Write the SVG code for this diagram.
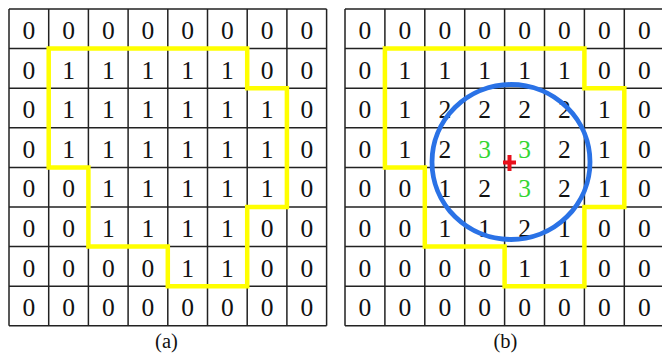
<svg xmlns="http://www.w3.org/2000/svg" width="662" height="354" viewBox="0 0 662 354">
<style>
.g{stroke:#222;stroke-width:1.5;fill:none}
.t{font-family:"Liberation Serif","Times New Roman",serif;font-size:25.5px;text-anchor:middle;fill:#111}
.gr{fill:#33d633}
.y{fill:none;stroke:#ffff00;stroke-width:4.5;stroke-linejoin:miter}
.cap{font-family:"Liberation Serif","Times New Roman",serif;font-size:20.5px;text-anchor:middle;fill:#111}
</style>
<rect width="662" height="354" fill="#fff"/>
<g id="grid-a">
<path class="g" d="M9,9V325.8M48.7,9V325.8M88.4,9V325.8M128.1,9V325.8M167.8,9V325.8M207.5,9V325.8M247.2,9V325.8M286.9,9V325.8M326.6,9V325.8M9,9H326.6M9,48.6H326.6M9,88.2H326.6M9,127.8H326.6M9,167.4H326.6M9,207H326.6M9,246.6H326.6M9,286.2H326.6M9,325.8H326.6"/>
<g class="t">
<text x="28.85" y="39">0</text><text x="68.55" y="39">0</text><text x="108.25" y="39">0</text><text x="147.95" y="39">0</text><text x="187.65" y="39">0</text><text x="227.35" y="39">0</text><text x="267.05" y="39">0</text><text x="306.75" y="39">0</text>
<text x="28.85" y="78.6">0</text><text x="68.55" y="78.6">1</text><text x="108.25" y="78.6">1</text><text x="147.95" y="78.6">1</text><text x="187.65" y="78.6">1</text><text x="227.35" y="78.6">1</text><text x="267.05" y="78.6">0</text><text x="306.75" y="78.6">0</text>
<text x="28.85" y="118.2">0</text><text x="68.55" y="118.2">1</text><text x="108.25" y="118.2">1</text><text x="147.95" y="118.2">1</text><text x="187.65" y="118.2">1</text><text x="227.35" y="118.2">1</text><text x="267.05" y="118.2">1</text><text x="306.75" y="118.2">0</text>
<text x="28.85" y="157.8">0</text><text x="68.55" y="157.8">1</text><text x="108.25" y="157.8">1</text><text x="147.95" y="157.8">1</text><text x="187.65" y="157.8">1</text><text x="227.35" y="157.8">1</text><text x="267.05" y="157.8">1</text><text x="306.75" y="157.8">0</text>
<text x="28.85" y="197.4">0</text><text x="68.55" y="197.4">0</text><text x="108.25" y="197.4">1</text><text x="147.95" y="197.4">1</text><text x="187.65" y="197.4">1</text><text x="227.35" y="197.4">1</text><text x="267.05" y="197.4">1</text><text x="306.75" y="197.4">0</text>
<text x="28.85" y="237">0</text><text x="68.55" y="237">0</text><text x="108.25" y="237">1</text><text x="147.95" y="237">1</text><text x="187.65" y="237">1</text><text x="227.35" y="237">1</text><text x="267.05" y="237">0</text><text x="306.75" y="237">0</text>
<text x="28.85" y="276.6">0</text><text x="68.55" y="276.6">0</text><text x="108.25" y="276.6">0</text><text x="147.95" y="276.6">0</text><text x="187.65" y="276.6">1</text><text x="227.35" y="276.6">1</text><text x="267.05" y="276.6">0</text><text x="306.75" y="276.6">0</text>
<text x="28.85" y="316.2">0</text><text x="68.55" y="316.2">0</text><text x="108.25" y="316.2">0</text><text x="147.95" y="316.2">0</text><text x="187.65" y="316.2">0</text><text x="227.35" y="316.2">0</text><text x="267.05" y="316.2">0</text><text x="306.75" y="316.2">0</text>
</g>
<path class="y" d="M48.7,48.6H247.2V88.2H286.9V207H247.2V286.2H167.8V246.6H88.4V167.4H48.7Z"/>
<text class="cap" x="166.5" y="348">(a)</text>
</g>
<g id="grid-b">
<path class="g" d="M345,9V325.8M384.9,9V325.8M424.8,9V325.8M464.7,9V325.8M504.6,9V325.8M544.5,9V325.8M584.4,9V325.8M624.3,9V325.8M664.2,9V325.8M345,9H664.2M345,48.6H664.2M345,88.2H664.2M345,127.8H664.2M345,167.4H664.2M345,207H664.2M345,246.6H664.2M345,286.2H664.2M345,325.8H664.2"/>
<g class="t">
<text x="364.95" y="39">0</text><text x="404.85" y="39">0</text><text x="444.75" y="39">0</text><text x="484.65" y="39">0</text><text x="524.55" y="39">0</text><text x="564.45" y="39">0</text><text x="604.35" y="39">0</text><text x="644.25" y="39">0</text>
<text x="364.95" y="78.6">0</text><text x="404.85" y="78.6">1</text><text x="444.75" y="78.6">1</text><text x="484.65" y="78.6">1</text><text x="524.55" y="78.6">1</text><text x="564.45" y="78.6">1</text><text x="604.35" y="78.6">0</text><text x="644.25" y="78.6">0</text>
<text x="364.95" y="118.2">0</text><text x="404.85" y="118.2">1</text><text x="444.75" y="118.2">2</text><text x="484.65" y="118.2">2</text><text x="524.55" y="118.2">2</text><text x="564.45" y="118.2">2</text><text x="604.35" y="118.2">1</text><text x="644.25" y="118.2">0</text>
<text x="364.95" y="157.8">0</text><text x="404.85" y="157.8">1</text><text x="444.75" y="157.8">2</text><text class="gr" x="484.65" y="157.8">3</text><text class="gr" x="524.55" y="157.8">3</text><text x="564.45" y="157.8">2</text><text x="604.35" y="157.8">1</text><text x="644.25" y="157.8">0</text>
<text x="364.95" y="197.4">0</text><text x="404.85" y="197.4">0</text><text x="444.75" y="197.4">1</text><text x="484.65" y="197.4">2</text><text class="gr" x="524.55" y="197.4">3</text><text x="564.45" y="197.4">2</text><text x="604.35" y="197.4">1</text><text x="644.25" y="197.4">0</text>
<text x="364.95" y="237">0</text><text x="404.85" y="237">0</text><text x="444.75" y="237">1</text><text x="484.65" y="237">1</text><text x="524.55" y="237">2</text><text x="564.45" y="237">1</text><text x="604.35" y="237">0</text><text x="644.25" y="237">0</text>
<text x="364.95" y="276.6">0</text><text x="404.85" y="276.6">0</text><text x="444.75" y="276.6">0</text><text x="484.65" y="276.6">0</text><text x="524.55" y="276.6">1</text><text x="564.45" y="276.6">1</text><text x="604.35" y="276.6">0</text><text x="644.25" y="276.6">0</text>
<text x="364.95" y="316.2">0</text><text x="404.85" y="316.2">0</text><text x="444.75" y="316.2">0</text><text x="484.65" y="316.2">0</text><text x="524.55" y="316.2">0</text><text x="564.45" y="316.2">0</text><text x="604.35" y="316.2">0</text><text x="644.25" y="316.2">0</text>
</g>
<path class="y" d="M384.9,48.6H584.4V88.2H624.3V207H584.4V286.2H504.6V246.6H424.8V167.4H384.9Z"/>
<ellipse id="circle" cx="511" cy="162" rx="79" ry="77.5" fill="none" stroke="#2a72e6" stroke-width="4.8"/>
<path id="center" d="M503,162.5H516M509.5,155V171" stroke="#e8101c" stroke-width="4" fill="none"/>
<text class="cap" x="505.5" y="348">(b)</text>
</g>
</svg>
